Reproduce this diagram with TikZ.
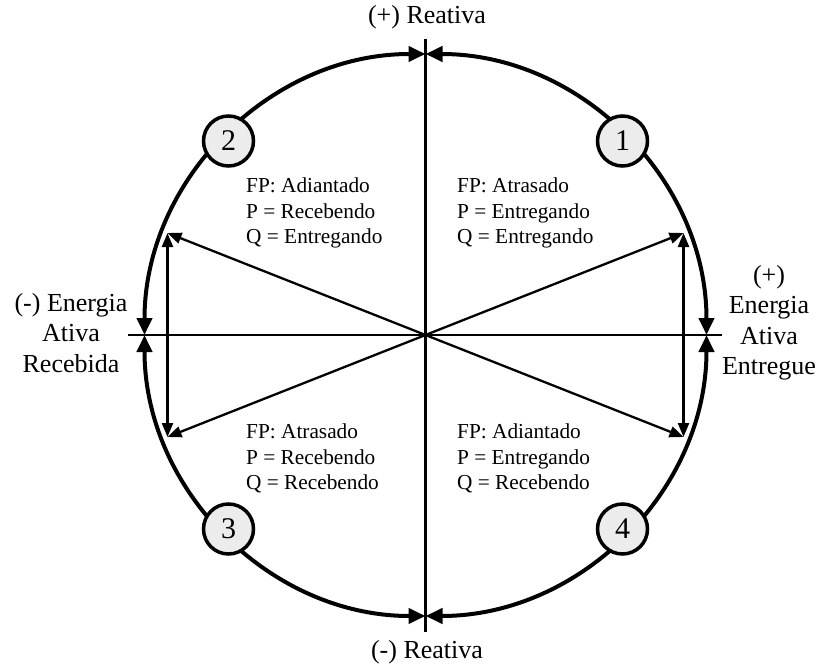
\documentclass[tikz,border=0pt]{standalone}
\usepackage{fontspec}
\setmainfont{Liberation Serif}
\usetikzlibrary{arrows.meta}
\begin{document}
\begin{tikzpicture}[x=1pt,y=-1pt,
  axisline/.style={line width=2.4pt},
  ring/.style={line width=4pt,{Triangle[length=17pt,width=15pt]}-{Triangle[length=17pt,width=15pt]}},
  inner/.style={line width=2.3pt,-{Triangle[length=14pt,width=11pt]}},
  innerboth/.style={line width=2.3pt,{Triangle[length=14pt,width=11pt]}-{Triangle[length=14pt,width=11pt]}},
  numnode/.style={circle,draw,line width=3.5pt,fill=gray!15,minimum size=50pt,inner sep=0pt,font=\fontsize{30}{30}\selectfont},
  quadtext/.style={align=left,anchor=west,inner sep=0pt,font=\fontsize{21.3}{25.3}\selectfont},
  axtext/.style={align=center,inner sep=0pt,font=\fontsize{26}{30.5}\selectfont}
]
\useasboundingbox (0,0) rectangle (817,666);
% centre and key points
\coordinate (O) at (425.5,335);
\coordinate (E) at (706.5,335);
\coordinate (N) at (425.5,54);
\coordinate (W) at (144.5,335);
\coordinate (S) at (425.5,616);
\coordinate (Vt) at (425.5,39);
\coordinate (Vb) at (425.5,632);
\coordinate (Hl) at (128,335);
\coordinate (Hr) at (722,335);
\coordinate (A1) at (683.5,233);
\coordinate (A2) at (167.5,233);
\coordinate (A3) at (167.5,437);
\coordinate (A4) at (683.5,437);
% axes
\draw[axisline] (Vt) -- (Vb);
\draw[axisline] (Hl) -- (Hr);
% ring arcs
\draw[ring] (E) arc[start angle=0,end angle=-90,radius=281];
\draw[ring] (N) arc[start angle=-90,end angle=-180,radius=281];
\draw[ring] (W) arc[start angle=180,end angle=90,radius=281];
\draw[ring] (S) arc[start angle=90,end angle=0,radius=281];
% inner arrows
\draw[inner] (O) -- (A1);
\draw[inner] (O) -- (A2);
\draw[inner] (O) -- (A3);
\draw[inner] (O) -- (A4);
\draw[innerboth] (A2) -- (A3);
\draw[innerboth] (A1) -- (A4);
% numbered circles
\node[numnode] (n1) at (622.5,141) {1};
\node[numnode] (n2) at (228.5,141) {2};
\node[numnode] (n3) at (228.5,529) {3};
\node[numnode] (n4) at (622.5,529) {4};
% quadrant texts
\node[quadtext] (q2) at (246,213) {FP: Adiantado\\P = Recebendo\\Q = Entregando};
\node[quadtext] (q1) at (457,213) {FP: Atrasado\\P = Entregando\\Q = Entregando};
\node[quadtext] (q3) at (246,458.5) {FP: Atrasado\\P = Recebendo\\Q = Recebendo};
\node[quadtext] (q4) at (457,458.5) {FP: Adiantado\\P = Entregando\\Q = Recebendo};
% axis labels
\node[axtext] (top) at (427,17) {(+) Reativa};
\node[axtext] (bot) at (427,652) {(-) Reativa};
\node[axtext] (lft) at (71,333) {(-) Energia\\Ativa\\Recebida};
\node[axtext] (rgt) at (769,323) {(+)\\Energia\\Ativa\\Entregue};
\end{tikzpicture}
\end{document}
